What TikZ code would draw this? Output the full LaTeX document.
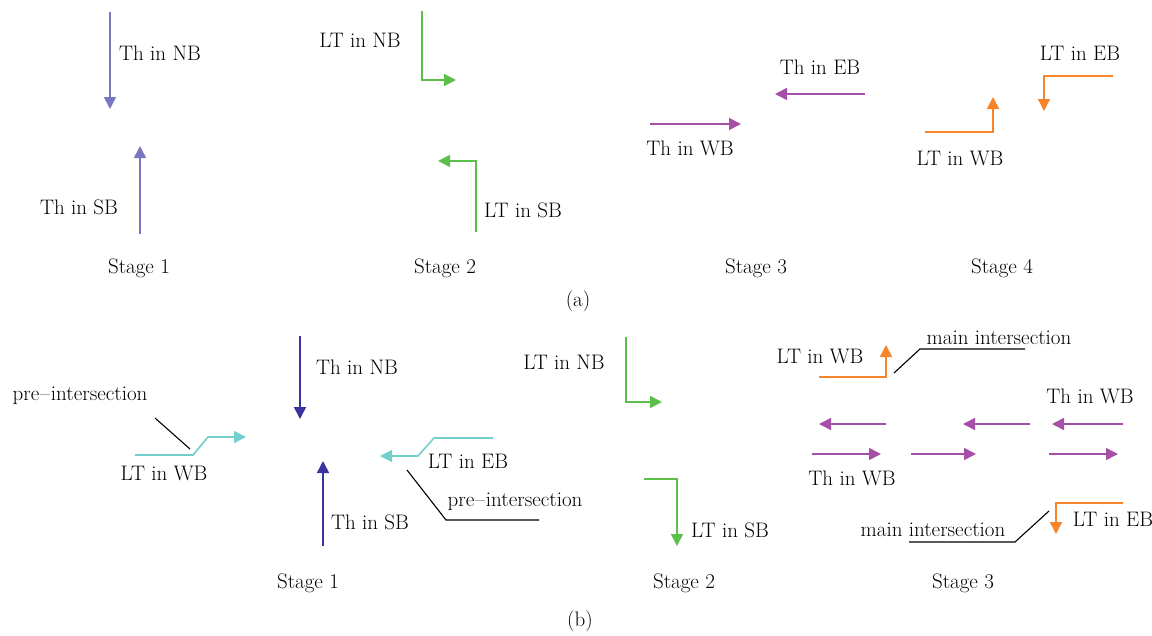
\documentclass[tikz,border=0pt]{standalone}
\usetikzlibrary{arrows.meta}
\definecolor{periw}{HTML}{7878C2}
\definecolor{navy}{HTML}{3A34A0}
\definecolor{grn}{HTML}{5CBF4A}
\definecolor{purp}{HTML}{A64FA6}
\definecolor{orng}{HTML}{F5842A}
\definecolor{cyn}{HTML}{72CFCB}
\begin{document}
\begin{tikzpicture}[x=1pt,y=-1pt,
  every node/.style={font=\fontsize{21}{25}\selectfont, inner sep=0pt},
  flow/.style={line width=1.6pt, -{Triangle[length=12pt,width=12pt]}},
  leader/.style={line width=1.1pt, black}]
\useasboundingbox (0,0) rectangle (1152,635);

% ---------------- (a) ----------------
% Stage 1
\coordinate (a1n0) at (110,12);  \coordinate (a1n1) at (110,109);
\coordinate (a1s0) at (140,234); \coordinate (a1s1) at (140,146);
\draw[flow, periw] (a1n0) -- (a1n1);
\draw[flow, periw] (a1s0) -- (a1s1);
\node (la1n) at (160,53) {Th in NB};
\node (la1s) at (79,207) {Th in SB};
\node (st1a) at (139,268) {Stage 1};

% Stage 2
\coordinate (a2n0) at (422,11);  \coordinate (a2n1) at (456,80);
\coordinate (a2s0) at (476,232); \coordinate (a2s1) at (438,161);
\draw[flow, grn] (a2n0) |- (a2n1);
\draw[flow, grn] (a2s0) |- (a2s1);
\node (la2n) at (360,40) {LT in NB};
\node (la2s) at (523,210) {LT in SB};
\node (st2a) at (445,268) {Stage 2};

% Stage 3
\coordinate (a3w0) at (650,124); \coordinate (a3w1) at (741,124);
\coordinate (a3e0) at (865,94);  \coordinate (a3e1) at (775,94);
\draw[flow, purp] (a3w0) -- (a3w1);
\draw[flow, purp] (a3e0) -- (a3e1);
\node (la3w) at (690,148) {Th in WB};
\node (la3e) at (820,67) {Th in EB};
\node (st3a) at (756,268) {Stage 3};

% Stage 4
\coordinate (a4w0) at (925,132); \coordinate (a4w1) at (993,97);
\coordinate (a4e0) at (1113,76); \coordinate (a4e1) at (1044,111);
\draw[flow, orng] (a4w0) -| (a4w1);
\draw[flow, orng] (a4e0) -| (a4e1);
\node (la4w) at (960,158) {LT in WB};
\node (la4e) at (1080,53) {LT in EB};
\node (st4a) at (1002,268) {Stage 4};

\node (capa) at (578,301) {(a)};

% ---------------- (b) ----------------
% Stage 1
\coordinate (b1n0) at (300,336); \coordinate (b1n1) at (300,419);
\coordinate (b1s0) at (323,546); \coordinate (b1s1) at (323,461);
\draw[flow, navy] (b1n0) -- (b1n1);
\draw[flow, navy] (b1s0) -- (b1s1);
\node (lb1n) at (357,367) {Th in NB};
\node (lb1s) at (370,522) {Th in SB};

\coordinate (b1w0) at (135,455); \coordinate (b1wa) at (193,455);
\coordinate (b1wb) at (208,437); \coordinate (b1w1) at (246,437);
\draw[flow, cyn] (b1w0) -- (b1wa) -- (b1wb) -- (b1w1);
\node (lb1w) at (164,473) {LT in WB};
\node (pre1) at (80,396) {pre\kern1pt--\kern1pt intersection};
\coordinate (pre1a) at (155,418); \coordinate (pre1b) at (190,449);
\draw[leader] (pre1a) -- (pre1b);

\coordinate (b1e0) at (493,438); \coordinate (b1ea) at (434,438);
\coordinate (b1eb) at (418,456); \coordinate (b1e1) at (380,456);
\draw[flow, cyn] (b1e0) -- (b1ea) -- (b1eb) -- (b1e1);
\node (lb1e) at (468,461) {LT in EB};
\node (pre2) at (515,502) {pre\kern1pt--\kern1pt intersection};
\coordinate (pre2a) at (407,470); \coordinate (pre2b) at (446,520);
\coordinate (pre2c) at (539,520);
\draw[leader] (pre2a) -- (pre2b) -- (pre2c);
\node (st1b) at (308,583) {Stage 1};

% Stage 2
\coordinate (b2n0) at (626,337); \coordinate (b2n1) at (662,402);
\coordinate (b2s0) at (644,479); \coordinate (b2s1) at (677,546);
\draw[flow, grn] (b2n0) |- (b2n1);
\draw[flow, grn] (b2s0) -| (b2s1);
\node (lb2n) at (564,362) {LT in NB};
\node (lb2s) at (730,530) {LT in SB};
\node (st2b) at (684,583) {Stage 2};

\node (capb) at (580,621) {(b)};

% Stage 3
\coordinate (b3w0) at (819,377); \coordinate (b3w1) at (886,345);
\draw[flow, orng] (b3w0) -| (b3w1);
\node (lb3w) at (820,356) {LT in WB};
\node (mi1) at (999,338) {main intersection};
\coordinate (mi1a) at (894,373); \coordinate (mi1b) at (920,349);
\coordinate (mi1c) at (1025,349);
\draw[leader] (mi1a) -- (mi1b) -- (mi1c);

\coordinate (r1a0) at (886,424);  \coordinate (r1a1) at (819,424);
\coordinate (r1b0) at (1030,424); \coordinate (r1b1) at (963,424);
\coordinate (r1c0) at (1123,424); \coordinate (r1c1) at (1052,424);
\draw[flow, purp] (r1a0) -- (r1a1);
\draw[flow, purp] (r1b0) -- (r1b1);
\draw[flow, purp] (r1c0) -- (r1c1);
\coordinate (r2a0) at (812,454);  \coordinate (r2a1) at (881,454);
\coordinate (r2b0) at (911,454);  \coordinate (r2b1) at (976,454);
\coordinate (r2c0) at (1049,454); \coordinate (r2c1) at (1118,454);
\draw[flow, purp] (r2a0) -- (r2a1);
\draw[flow, purp] (r2b0) -- (r2b1);
\draw[flow, purp] (r2c0) -- (r2c1);
\node (lb3t) at (1090,396) {Th in WB};
\node (lb3b) at (852,478) {Th in WB};

\coordinate (b3e0) at (1123,503); \coordinate (b3e1) at (1056,534);
\draw[flow, orng] (b3e0) -| (b3e1);
\node (lb3e) at (1113,519) {LT in EB};
\node (mi2) at (933,530) {main intersection};
\coordinate (mi2a) at (1049,511); \coordinate (mi2b) at (1015,542);
\coordinate (mi2c) at (909,542);
\draw[leader] (mi2a) -- (mi2b) -- (mi2c);
\node (st3b) at (963,583) {Stage 3};
\end{tikzpicture}
\end{document}
